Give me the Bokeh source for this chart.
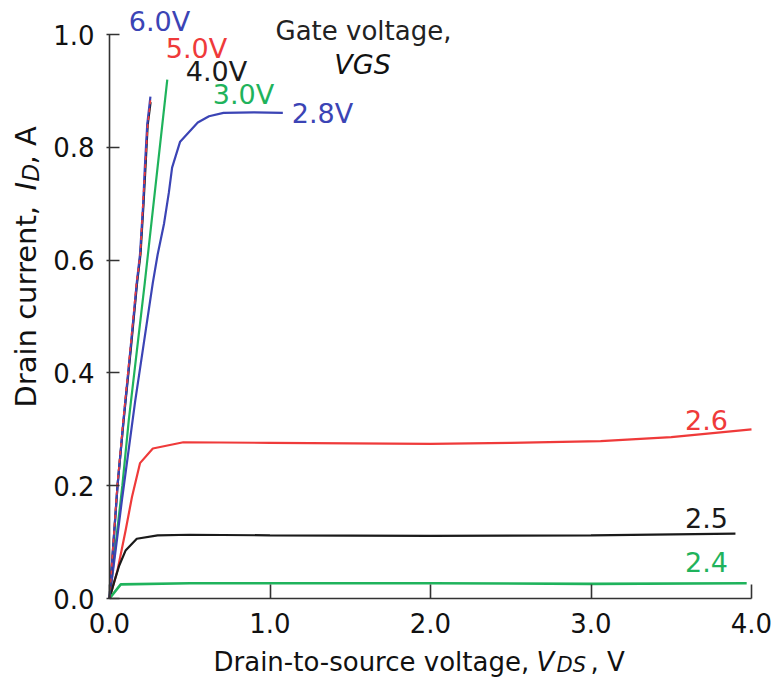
import math
from bokeh.plotting import figure
from bokeh.models import Range1d, FixedTicker, PrintfTickFormatter, Label, LinearAxis
from bokeh.embed import file_html
from bokeh.resources import INLINE

# ---- data ----
vds_6v = [0, 0.05, 0.087, 0.13, 0.17, 0.19, 0.21, 0.22, 0.235, 0.255]
id_6v = [0, 0.20, 0.316, 0.44, 0.56, 0.61, 0.70, 0.764, 0.84, 0.89]

vds_5v = [0, 0.048, 0.085, 0.128, 0.168, 0.192, 0.208, 0.222, 0.238, 0.258]
id_5v = [0, 0.20, 0.316, 0.44, 0.56, 0.61, 0.70, 0.764, 0.84, 0.89]

vds_4v = [0, 0.05, 0.088, 0.132, 0.172, 0.193, 0.212, 0.224, 0.238, 0.256]
id_4v = [0, 0.20, 0.316, 0.44, 0.56, 0.61, 0.70, 0.764, 0.84, 0.88]

vds_3v = [0, 0.08, 0.12, 0.22, 0.29, 0.36]
id_3v = [0, 0.20, 0.316, 0.56, 0.74, 0.92]

vds_28 = [0, 0.08, 0.16, 0.27, 0.30, 0.34, 0.37, 0.39, 0.44, 0.55, 0.62, 0.71, 0.90, 1.08]
id_28 = [0, 0.18, 0.35, 0.56, 0.61, 0.665, 0.72, 0.764, 0.81, 0.844, 0.855, 0.861, 0.862, 0.861]

vds_26 = [0, 0.05, 0.10, 0.14, 0.19, 0.27, 0.46, 1.0, 2.0, 2.5, 3.06, 3.5, 4.0]
id_26 = [0, 0.05, 0.12, 0.18, 0.24, 0.266, 0.277, 0.276, 0.274, 0.276, 0.279, 0.286, 0.30]

vds_25 = [0, 0.03, 0.06, 0.10, 0.17, 0.30, 0.50, 1.0, 2.0, 3.0, 3.9]
id_25 = [0, 0.03, 0.058, 0.085, 0.106, 0.112, 0.113, 0.112, 0.111, 0.112, 0.115]

vds_24 = [0, 0.07, 0.5, 1.0, 2.0, 3.0, 3.97]
id_24 = [0, 0.025, 0.027, 0.027, 0.027, 0.026, 0.027]

x_ticks = [0, 1, 2, 3, 4]
y_ticks = [0, 0.2, 0.4, 0.6, 0.8, 1.0]

FONT = "DejaVu Sans"
BLUE = "#3b44b5"
RED = "#ef3a3a"
GREEN = "#1fb35c"
BLACK = "#1a1a1a"

# frame covers the whole canvas; axes are pinned at x=0 / y=0
W_PX, H_PX = 775, 678
X0_PX, Y0_PX, SX, SY = 109, 598, 160.5, 564   # reference pixel mapping


def dx(px):
    return (px - X0_PX) / SX


def dy(py):
    return (Y0_PX - py) / SY


p = figure(width=W_PX, height=H_PX,
           x_range=Range1d(dx(0), dx(W_PX)),
           y_range=Range1d(dy(H_PX), dy(0)),
           output_backend="svg", toolbar_location=None,
           x_axis_location=None, y_axis_location=None,
           min_border=0, min_border_left=0, min_border_right=0,
           min_border_top=0, min_border_bottom=0)
p.outline_line_color = None
p.grid.visible = False

xax = LinearAxis(fixed_location=0, bounds=(0, 4))
yax = LinearAxis(fixed_location=0, bounds=(0, 1))
p.add_layout(xax, "below")
p.add_layout(yax, "left")

for ax, ticks in ((xax, x_ticks), (yax, y_ticks)):
    ax.ticker = FixedTicker(ticks=ticks)
    ax.formatter = PrintfTickFormatter(format="%.1f")
    ax.minor_tick_line_color = None
    ax.axis_line_color = "#333333"
    ax.axis_line_width = 1.6
    ax.major_tick_line_color = "#333333"
    ax.major_tick_line_width = 1.6
    ax.major_label_text_font = FONT
    ax.major_label_text_font_size = "26px"
    ax.major_label_text_color = "#111111"

xax.major_tick_in = 14
xax.major_tick_out = 0
xax.major_label_standoff = 14
yax.major_tick_in = 10
yax.major_tick_out = 3
yax.major_label_standoff = 12

W = 2.2
p.line(vds_3v, id_3v, line_color=GREEN, line_width=W)
p.line(vds_28, id_28, line_color=BLUE, line_width=W)
p.line(vds_26, id_26, line_color=RED, line_width=W)
p.line(vds_25, id_25, line_color=BLACK, line_width=W)
p.line(vds_24, id_24, line_color=GREEN, line_width=W + 0.4)
p.line(vds_4v, id_4v, line_color=BLACK, line_width=W)
p.line(vds_6v, id_6v, line_color=BLUE, line_width=W)
p.line(vds_5v, id_5v, line_color=RED, line_width=1.6, line_dash="4 4")


def lab(text, px, py, color, size="27px", style="normal", align="center",
        angle=0.0):
    p.add_layout(Label(x=dx(px), y=dy(py), text=text, text_color=color,
                       text_font=FONT, text_font_size=size,
                       text_font_style=style, text_align=align,
                       text_baseline="middle", angle=angle))


lab("6.0V", 159, 21, BLUE)
lab("5.0V", 196, 48, RED)
lab("4.0V", 216, 71, BLACK)
lab("3.0V", 243, 94, GREEN)
lab("2.8V", 322, 113, BLUE)
lab("Gate voltage,", 363, 30, "#222222", size="26px")
lab("VGS", 362, 64, "#111111", size="27px", style="italic")
lab("2.6", 706, 419, RED)
lab("2.5", 706, 517, BLACK)
lab("2.4", 706, 561, GREEN)

# x axis title (mixed styles)
lab("Drain-to-source voltage,", 213, 661, "#111111", size="26px", align="left")
lab("V", 536, 661, "#111111", size="26px", style="italic", align="left")
lab("DS", 556, 664, "#111111", size="21px", style="italic", align="left")
lab(", V", 590, 661, "#111111", size="26px", align="left")

# y axis title (rotated, mixed styles)
A = math.pi / 2
lab("Drain current,", 25, 407, "#111111", size="29px", align="left", angle=A)
lab("I", 25, 190, "#111111", size="29px", style="italic", align="left", angle=A)
lab("D", 30, 181, "#111111", size="23px", style="italic", align="left", angle=A)
lab(", A", 25, 164, "#111111", size="29px", align="left", angle=A)

open("out.html", "w").write(file_html(p, INLINE))
